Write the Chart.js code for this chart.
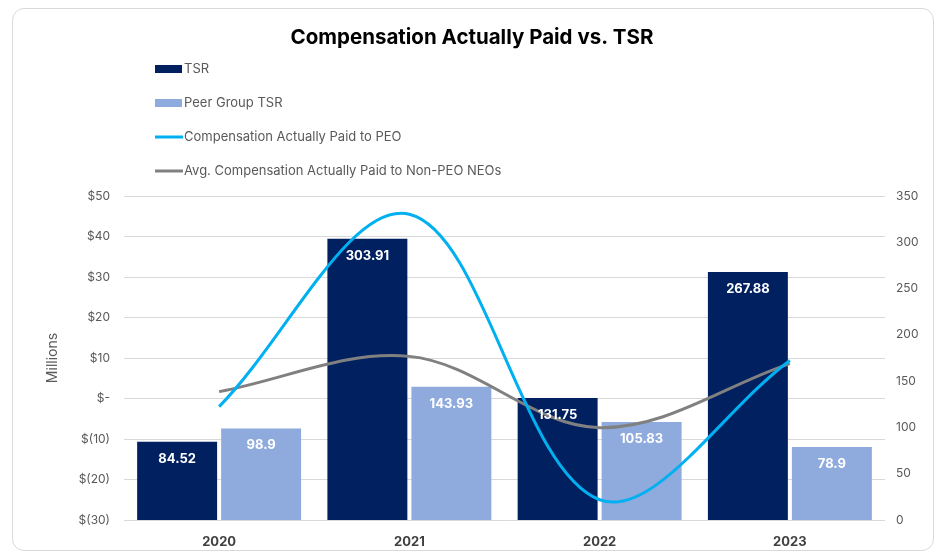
<!DOCTYPE html>
<html>
<head>
<meta charset="utf-8">
<script src="https://cdn.jsdelivr.net/npm/chart.js@4.4.1/dist/chart.umd.min.js"></script>
<style>
  html, body { margin: 0; padding: 0; background: #fff; }
  .card {
    position: absolute; left: 12px; top: 8px; width: 922px; height: 543px;
    border: 1px solid #d9d9d9; border-radius: 12px; box-sizing: border-box;
  }
  .wrap { position: absolute; left: 0; top: 0; width: 944px; height: 558px; }
</style>
</head>
<body>
<div class="card"></div>
<div class="wrap"><canvas id="chartCombo"></canvas></div>
<script>
const years = ['2020', '2021', '2022', '2023'];
const tsr = [84.52, 303.91, 131.75, 267.88];
const peerTsr = [98.9, 143.93, 105.83, 78.9];
const capPeo = [-2.0, 45.5, -25.0, 9.4];
const capNonPeo = [1.7, 10.4, -7.2, 8.6];

const FONT = 'Inter, "Noto Sans", sans-serif';

// money style ticks: $50, $-, $(10)
function money(v) {
  if (v === 0) return '$-';
  if (v < 0) return '$(' + Math.abs(v) + ')';
  return '$' + v;
}

// white value labels inside the top of each bar
const barLabels = {
  id: 'barLabels',
  afterDatasetsDraw(chart) {
    const ctx = chart.ctx;
    ctx.save();
    ctx.fillStyle = '#ffffff';
    ctx.font = 'bold 13px ' + FONT;
    ctx.textAlign = 'center';
    ctx.textBaseline = 'middle';
    chart.data.datasets.forEach((ds, i) => {
      if (ds.type !== 'bar') return;
      chart.getDatasetMeta(i).data.forEach((bar, j) => {
        ctx.fillText(String(ds.data[j]), bar.x, bar.y + 17);
      });
    });
    ctx.restore();
  }
};

// stacked legend under the title
const sideLegend = {
  id: 'sideLegend',
  afterDraw(chart) {
    const ctx = chart.ctx;
    ctx.save();
    ctx.font = '13px ' + FONT;
    ctx.textBaseline = 'middle';
    ctx.textAlign = 'left';
    chart.data.datasets.forEach((ds, i) => {
      const y = 69 + i * 34;
      if (ds.type === 'bar') {
        ctx.fillStyle = ds.backgroundColor;
        ctx.fillRect(155, y - 4, 27, 8);
      } else {
        ctx.strokeStyle = ds.borderColor;
        ctx.lineWidth = 3;
        ctx.beginPath();
        ctx.moveTo(155, y);
        ctx.lineTo(183, y);
        ctx.stroke();
      }
      ctx.fillStyle = '#595959';
      ctx.fillText(ds.label, 184, y);
    });
    ctx.restore();
  }
};

const ctx = document.getElementById('chartCombo').getContext('2d');

let myChart = new Chart(ctx, {
  type: 'bar',
  data: {
    labels: years,
    datasets: [
      {
        type: 'bar',
        label: 'TSR',
        data: tsr,
        yAxisID: 'y1',
        backgroundColor: '#002060',
        categoryPercentage: 0.883,
        barPercentage: 0.952,
        order: 2
      },
      {
        type: 'bar',
        label: 'Peer Group TSR',
        data: peerTsr,
        yAxisID: 'y1',
        backgroundColor: '#8faadc',
        categoryPercentage: 0.883,
        barPercentage: 0.952,
        order: 2
      },
      {
        type: 'line',
        label: 'Compensation Actually Paid to PEO',
        data: capPeo,
        yAxisID: 'y',
        borderColor: '#00b0f0',
        backgroundColor: '#00b0f0',
        borderWidth: 3,
        pointRadius: 0,
        tension: 0.35,
        order: 1
      },
      {
        type: 'line',
        label: 'Avg. Compensation Actually Paid to Non-PEO NEOs',
        data: capNonPeo,
        yAxisID: 'y',
        borderColor: '#808080',
        backgroundColor: '#808080',
        borderWidth: 3,
        pointRadius: 0,
        tension: 0.35,
        order: 1
      }
    ]
  },
  options: {
    responsive: true,
    maintainAspectRatio: false,
    animation: false,
    layout: { padding: 0 },
    plugins: {
      legend: { display: false },
      tooltip: { enabled: false },
      title: {
        display: true,
        text: 'Compensation Actually Paid vs. TSR',
        color: '#000000',
        font: { family: FONT, size: 20.5, weight: 'bold', lineHeight: 1.2 },
        padding: { top: 26, bottom: 145.4 }
      }
    },
    scales: {
      x: {
        grid: { display: false },
        border: { display: false },
        ticks: {
          color: '#404040',
          padding: 6,
          font: { family: FONT, size: 13, weight: 'bold' }
        },
        afterFit(scale) { scale.height = 38; }
      },
      y: {
        position: 'left',
        min: -30,
        max: 50,
        ticks: {
          stepSize: 10,
          padding: 14,
          color: '#595959',
          font: { family: FONT, size: 12 },
          callback: (v) => money(v)
        },
        grid: { color: '#d9d9d9', drawTicks: false },
        border: { display: false },
        title: {
          display: true,
          text: 'Millions',
          color: '#595959',
          font: { family: FONT, size: 14 },
          padding: { top: 44, bottom: 0 }
        },
        afterFit(scale) { scale.width = 124; }
      },
      y1: {
        position: 'right',
        min: 0,
        max: 350,
        ticks: {
          stepSize: 50,
          padding: 11,
          color: '#595959',
          font: { family: FONT, size: 12 }
        },
        grid: { display: false, drawTicks: false },
        border: { display: false },
        afterFit(scale) { scale.width = 59; }
      }
    }
  },
  plugins: [barLabels, sideLegend]
});
</script>
</body>
</html>
